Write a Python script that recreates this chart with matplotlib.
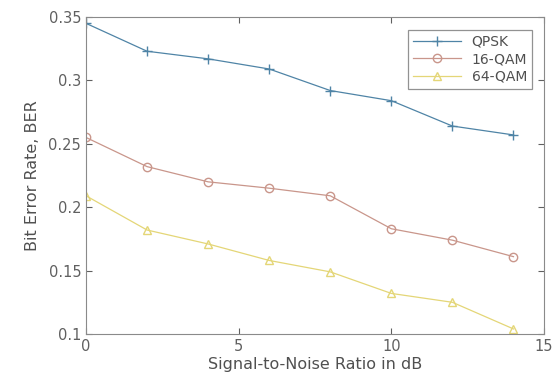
import numpy as np
import matplotlib.pyplot as plt

# dados
snr_db = [0, 2, 4, 6, 8, 10, 12, 14]
ber_qpsk = [0.345, 0.323, 0.317, 0.309, 0.292, 0.284, 0.264, 0.257]
ber_16qam = [0.255, 0.232, 0.220, 0.215, 0.209, 0.183, 0.174, 0.161]
ber_64qam = [0.209, 0.182, 0.171, 0.158, 0.149, 0.132, 0.125, 0.104]

fig = plt.figure(figsize=(5.56, 3.85), dpi=100)
ax = fig.add_axes([86 / 556, 1 - 334 / 385, 458 / 556, 317 / 385])

ax.plot(snr_db, ber_qpsk, color='#4f84a6', marker='+', markersize=7, linewidth=0.9, label='QPSK')
ax.plot(snr_db, ber_16qam, color='#c9968b', marker='o', markersize=6, markerfacecolor='none', linewidth=0.9, label='16-QAM')
ax.plot(snr_db, ber_64qam, color='#e4d677', marker='^', markersize=6, markerfacecolor='none', linewidth=0.9, label='64-QAM')

ax.set_xlim(0, 15)
ax.set_ylim(0.1, 0.35)
ax.set_xticks([0, 5, 10, 15])
ax.set_yticks([0.1, 0.15, 0.2, 0.25, 0.3, 0.35])
ax.set_yticklabels(['0.1', '0.15', '0.2', '0.25', '0.3', '0.35'])
ax.tick_params(direction='in', top=True, right=True, labelsize=10.5, colors='#606060', length=4)
for s in ax.spines.values():
    s.set_color('#8a8a8a')

ax.set_xlabel('Signal-to-Noise Ratio in dB', fontsize=11.5, color='#505050', labelpad=2)
ax.set_ylabel('Bit Error Rate, BER', fontsize=11.5, color='#505050', labelpad=6)

leg = ax.legend(loc='upper right', bbox_to_anchor=(1 - 12 / 458, 1 - 13 / 317),
                borderaxespad=0, fontsize=10, frameon=True, fancybox=False,
                edgecolor='#777777', borderpad=0.35, handlelength=3.4, labelspacing=0.25)
leg.get_frame().set_linewidth(0.9)
for t in leg.get_texts():
    t.set_color('#505050')

fig.savefig('out.png', dpi=100)
